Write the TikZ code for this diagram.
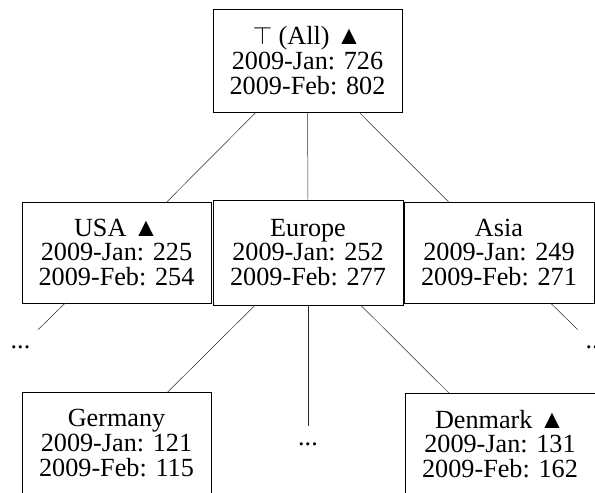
\documentclass[tikz,border=0pt]{standalone}
\usepackage{fontspec}
\setmainfont{Liberation Serif}
\begin{document}
\begin{tikzpicture}[x=1pt,y=-1pt,
  box/.style={draw, line width=0.6pt, fill=white, align=center, inner sep=0pt,
    font=\fontsize{26.2}{24.6}\selectfont, minimum width=189pt, minimum height=101pt},
  dotsnode/.style={inner sep=0pt, minimum width=35pt, minimum height=35pt,
    font=\fontsize{26.2}{24.6}\selectfont},
  edge/.style={line width=0.5pt, draw=black!85}]
\useasboundingbox (0,0) rectangle (595,493);
\node[box, minimum height=103pt] (top) at (307.5,60.5) {$\top$ (All) ▲\\2009-Jan: 726\\2009-Feb: 802};
\node[box] (usa) at (116.5,252.5) {USA ▲\\2009-Jan: 225\\2009-Feb: 254};
\node[box, minimum width=190pt] (asia) at (499,252.5) {Asia\\2009-Jan: 249\\2009-Feb: 271};
\node[box, minimum width=190pt, minimum height=105pt] (europe) at (308,252.5) {Europe\\2009-Jan: 252\\2009-Feb: 277};
\node[box] (germany) at (116.5,443) {Germany\\2009-Jan: 121\\2009-Feb: 115};
\node[box, minimum width=190pt] (denmark) at (500,444) {Denmark ▲\\2009-Jan: 131\\2009-Feb: 162};
\node[dotsnode] (dl) at (20.5,347) {...};
\node[dotsnode] (dr) at (595.5,347) {...};
\node[dotsnode] (dm) at (308,444) {...};
\draw[edge] (top) -- (usa);
\draw[edge] (top) -- (europe);
\draw[edge] (top) -- (asia);
\draw[edge] (usa) -- (dl);
\draw[edge] (asia) -- (dr);
\draw[edge] (europe) -- (germany);
\draw[edge] (europe) -- (dm);
\draw[edge] (europe) -- (denmark);
\end{tikzpicture}
\end{document}
